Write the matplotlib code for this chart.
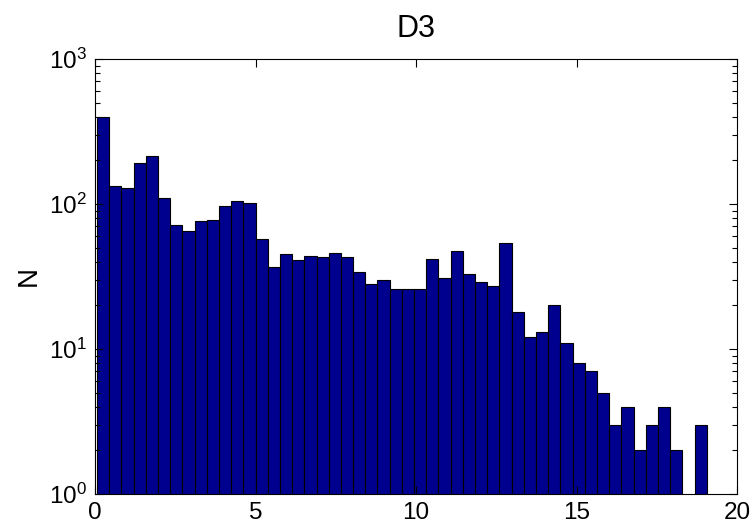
import numpy as np
import matplotlib.pyplot as plt

# histogram of D3: 50 equal bins over the data range
bin_lo = 0.06
bin_hi = 19.06
counts = [396, 132, 128, 191, 213, 109, 71, 65, 76, 78,
          97, 105, 102, 57, 37, 45, 41, 44, 43, 46,
          43, 34, 28, 30, 26, 26, 26, 42, 31, 47,
          33, 29, 27, 54, 18, 12, 13, 20, 11, 8,
          7, 5, 3, 4, 2, 3, 4, 2, 0, 3]

xticks = [0, 5, 10, 15, 20]
yticks = [1, 10, 100, 1000]

plt.rcParams['font.family'] = ['Liberation Sans', 'DejaVu Sans']
plt.rcParams['mathtext.fontset'] = 'custom'
plt.rcParams['mathtext.rm'] = 'Liberation Sans'
plt.rcParams['mathtext.it'] = 'Liberation Sans'

edges = np.linspace(bin_lo, bin_hi, len(counts) + 1)
width = edges[1] - edges[0]

fig = plt.figure(figsize=(7.54, 5.26), dpi=100)
ax = fig.add_axes([0.126, 0.061, 0.8515, 0.827])

ax.bar(edges[:-1], counts, width=width, align='edge',
       color='#00008f', edgecolor='black', linewidth=0.8)

ax.set_yscale('log')
ax.set_xlim(0, 20)
ax.set_ylim(1, 1000)
ax.set_xticks(xticks)
ax.set_yticks(yticks)
ax.set_yticklabels([r'$10^{%d}$' % int(np.log10(v)) for v in yticks])

ax.tick_params(which='both', direction='in', top=True, right=True,
               labelsize=17.5, width=0.8)
ax.tick_params(which='major', length=6, pad=6)
ax.tick_params(which='minor', length=3.5)
for s in ax.spines.values():
    s.set_linewidth(0.8)

ax.set_ylabel('N', fontsize=20, labelpad=5)
ax.set_title('D3', fontsize=22, pad=16)

fig.savefig('out.png', dpi=100)
